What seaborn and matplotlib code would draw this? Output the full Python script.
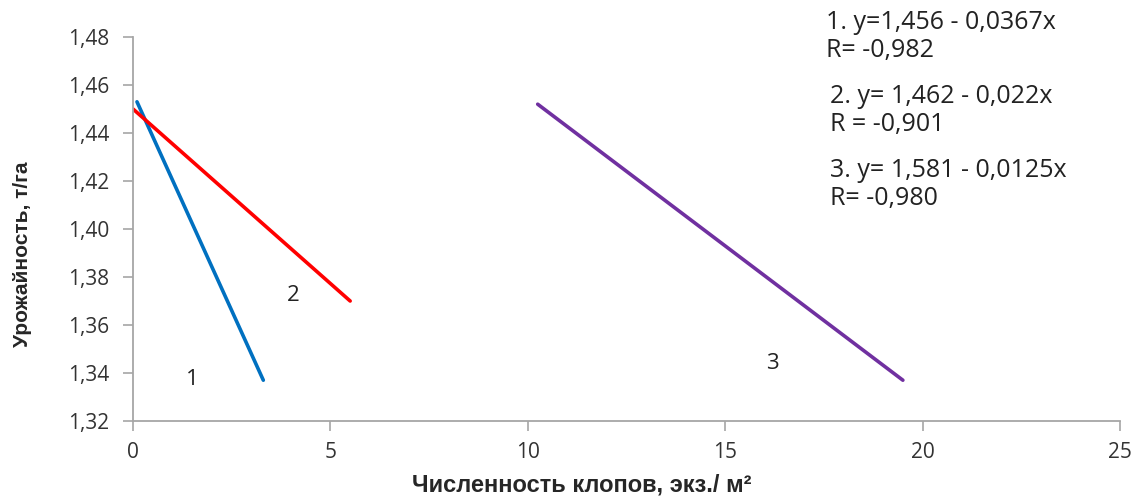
import pandas as pd
import numpy as np
from matplotlib import pyplot as plt
import seaborn as sns

# regression lines (end points)
line_ids = ["1", "2", "3"]
x_start = [0.1, 0.0, 10.25]
x_end = [3.3, 5.5, 19.5]
y_start = [1.453, 1.450, 1.452]
y_end = [1.337, 1.370, 1.337]
line_colors = ["#0070c0", "#ff0000", "#7030a0"]

# number labels beside the lines
label_x = [1.5, 4.05, 16.2]
label_y = [1.3375, 1.3725, 1.344]

equations = ["1. y=1,456 - 0,0367x\nR= -0,982",
             "2. y= 1,462 - 0,022x\nR = -0,901",
             "3. y= 1,581 - 0,0125x\nR= -0,980"]

yticks = [1.32, 1.34, 1.36, 1.38, 1.40, 1.42, 1.44, 1.46, 1.48]
xticks = [0, 5, 10, 15, 20, 25]

rows = []
for i in range(len(line_ids)):
    rows.append({"line": line_ids[i], "x": x_start[i], "y": y_start[i]})
    rows.append({"line": line_ids[i], "x": x_end[i], "y": y_end[i]})
df = pd.DataFrame(rows)

sns.set_style("white")
plt.rcParams['font.family'] = ['Open Sans', 'DejaVu Sans']

fig = plt.figure(figsize=(11.38, 4.98), dpi=100)
ax = fig.add_axes([0.1169, 0.1546, 0.8673, 0.7711])

sns.lineplot(data=df, x="x", y="y", hue="line", palette=line_colors,
             linewidth=2.6, legend=False, ax=ax)

for i in range(len(line_ids)):
    ax.text(label_x[i], label_y[i], line_ids[i], fontsize=16, color="#222222",
            ha="center", va="center")

ax.set_xlim(0, 25)
ax.set_ylim(1.32, 1.48)
ax.set_xticks(xticks)
ax.set_yticks(yticks)
ax.set_xticklabels([str(t) for t in xticks])
ax.set_yticklabels([("%.2f" % t).replace(".", ",") for t in yticks])
ax.tick_params(axis="both", labelsize=15, colors="#a6a6a6", labelcolor="#333333",
               length=7, width=1.2, direction="out", bottom=True, left=True)
ax.tick_params(axis="x", pad=8)
ax.tick_params(axis="y", pad=10)

for s in ["top", "right"]:
    ax.spines[s].set_visible(False)
for s in ["left", "bottom"]:
    ax.spines[s].set_color("#a6a6a6")
    ax.spines[s].set_linewidth(1.3)

ax.set_xlabel("Численность клопов, экз./ м²", fontsize=17, fontweight="bold",
              family="Liberation Sans", labelpad=8, x=0.455)
ax.set_ylabel("Урожайность, т/га", fontsize=15, fontweight="bold",
              family="Liberation Sans")
ax.yaxis.set_label_coords(-0.102, 0.435)

eq_x = [826, 830, 830]
eq_y = [10, 84, 158]
for i in range(len(equations)):
    fig.text(eq_x[i] / 1138, 1 - eq_y[i] / 498, equations[i], fontsize=18,
             color="#222222", ha="left", va="top", linespacing=1.15)

fig.savefig("out.png", dpi=100)
